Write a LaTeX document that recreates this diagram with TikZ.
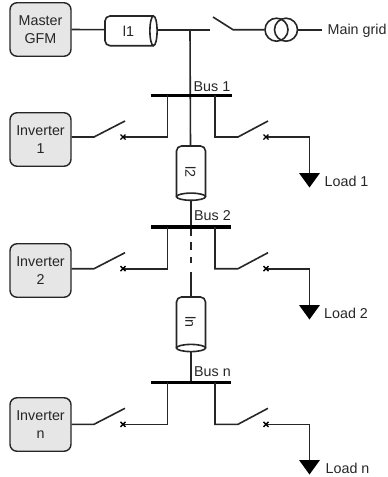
\documentclass[tikz,border=0pt]{standalone}
\usepackage{fontspec}
\setmainfont{Liberation Sans}
\definecolor{boxgray}{HTML}{E6E6E6}
\definecolor{ink}{HTML}{262626}
\tikzset{
  wire/.style={line width=1.6pt,draw=ink},
  busbar/.style={line width=3.6pt,draw=black},
  source/.style={draw=ink,line width=1.4pt,fill=boxgray,rounded corners=7pt,minimum width=61pt,minimum height=53.5pt,align=center,inner sep=0pt,font=\fontsize{14.3}{17.8}\selectfont,text=ink},
  lbl/.style={font=\fontsize{14.3}{17}\selectfont,inner sep=0pt,text=ink},
  cable/.style={wire,fill=white,rounded corners=5pt},
  loadtip/.style={fill=black,draw=none}
}
\begin{document}
\begin{tikzpicture}[x=1pt,y=-1pt]
\useasboundingbox (0,0) rectangle (388,477);
% master and grid
\node[source] (master) at (40.5,29.5) {Master\\GFM};
\coordinate (c1l) at (105,29.7);
\coordinate (c1r) at (157,29.7);
\coordinate (tap) at (190,29.7);
\coordinate (swopen) at (210,29.7);
\coordinate (swtip) at (213,17);
\coordinate (swhinge) at (233,29.7);
\node[circle,draw=ink,line width=1.6pt,minimum size=23pt,inner sep=0pt] (t1) at (276.5,29.7) {};
\node[circle,draw=ink,line width=1.6pt,minimum size=23pt,inner sep=0pt] (t2) at (286,29.7) {};
\coordinate (gridend) at (322,29.7);
\node[lbl,anchor=west] (grid) at (327.5,30.5) {Main grid};
\draw[wire] (master.east) -- (c1l);
\draw[cable] (153.5,16) -- (105,16) -- (105,45.7) -- (153.5,45.7);
\draw[wire,fill=white] (153.5,30.85) ellipse[x radius=3.6,y radius=14.85];
\node[lbl] (l1) at (128.5,31.5) {l1};
\draw[wire] (c1r) -- (swopen);
\draw[wire] (swtip) -- (swhinge) -- (t1.west);
\draw[wire] (t2.east) -- (gridend);
% buses
\coordinate (b1l) at (151,95.3); \coordinate (b1r) at (232,95.3);
\coordinate (b2l) at (151,227); \coordinate (b2r) at (231,227);
\coordinate (b3l) at (151,382.3); \coordinate (b3r) at (231,382.3);
% cables l2, ln
\coordinate (c2t) at (190.5,146);
\coordinate (c2b) at (191,200);
\coordinate (c3t) at (191,297);
\coordinate (c3b) at (191,351.5);
\draw[wire] (tap) -- (c2t);
\draw[wire] (c2b) -- (191,227);
\draw[wire] (191,227) -- (191,236);
\draw[wire] (191,242) -- (191,250);
\draw[wire] (191,257) -- (191,263);
\draw[wire] (191,272) -- (c3t);
\draw[wire] (c3b) -- (191,382.3);
\draw[cable] (176.5,196.7) -- (176.5,146) -- (205.5,146) -- (205.5,196.7);
\draw[wire,fill=white] (191,196.7) ellipse[x radius=14.5,y radius=3.6];
\node[lbl,rotate=-90] (l2) at (190.5,172) {l2};
\draw[cable] (176.5,348) -- (176.5,297) -- (205.5,297) -- (205.5,348);
\draw[wire,fill=white] (191,348) ellipse[x radius=14.5,y radius=3.6];
\node[lbl,rotate=-90] (ln) at (190.5,322) {ln};
\draw[busbar] (b1l) -- (b1r);
\draw[busbar] (b2l) -- (b2r);
\draw[busbar] (b3l) -- (b3r);
\node[lbl,anchor=west] (bus1) at (193.5,86.5) {Bus 1};
\node[lbl,anchor=west] (bus2) at (194,216) {Bus 2};
\node[lbl,anchor=west] (busn) at (194,372) {Bus n};
% feeder rows: bus y / branch y / box centre y / inverter text / triangle top / load text / load text x
\foreach \i/\by/\ry/\cy/\inv/\ty/\load/\lx in {
  1/95.3/137/139.5/{Inverter\\1}/173/{Load 1}/324.5,
  2/227/268.7/270.5/{Inverter\\2}/305/{Load 2}/324,
  3/382.3/424.3/424.5/{Inverter\\n}/460/{Load n}/325.5}{
  \node[source] (inv\i) at (40.5,\cy) {\inv};
  \coordinate (hl\i) at (94,\ry);
  \coordinate (tl\i) at (125,{\ry-16});
  \coordinate (xl\i) at (123,\ry);
  \coordinate (bl\i) at (167.5,\by);
  \coordinate (cl\i) at (167.5,\ry);
  \coordinate (br\i) at (215,\by);
  \coordinate (cr\i) at (215,\ry);
  \coordinate (hr\i) at (238,\ry);
  \coordinate (tr\i) at (268,{\ry-16});
  \coordinate (xr\i) at (266,\ry);
  \coordinate (kn\i) at (309.5,\ry);
  \coordinate (ld\i) at (309.5,\ty);
  \draw[wire] (inv\i.east |- hl\i) -- (hl\i) -- (tl\i);
  \draw[wire] (xl\i) -- (cl\i) -- (bl\i);
  \draw[wire] (br\i) -- (cr\i) -- (hr\i) -- (tr\i);
  \draw[wire] (xr\i) -- (kn\i) -- (ld\i);
  \draw[line width=1.4pt,draw=black] ([shift={(-2.5,-2.5)}]xl\i) -- ([shift={(2.5,2.5)}]xl\i) ([shift={(-2.5,2.5)}]xl\i) -- ([shift={(2.5,-2.5)}]xl\i);
  \draw[line width=1.4pt,draw=black] ([shift={(-2.5,-2.5)}]xr\i) -- ([shift={(2.5,2.5)}]xr\i) ([shift={(-2.5,2.5)}]xr\i) -- ([shift={(2.5,-2.5)}]xr\i);
  \fill[loadtip] ([shift={(-10.5,0)}]ld\i) -- ([shift={(10.5,0)}]ld\i) -- ([shift={(0,14.5)}]ld\i) -- cycle;
  \node[lbl,anchor=west] (load\i) at (\lx,{\ty+8}) {\load};
}
\end{tikzpicture}
\end{document}
